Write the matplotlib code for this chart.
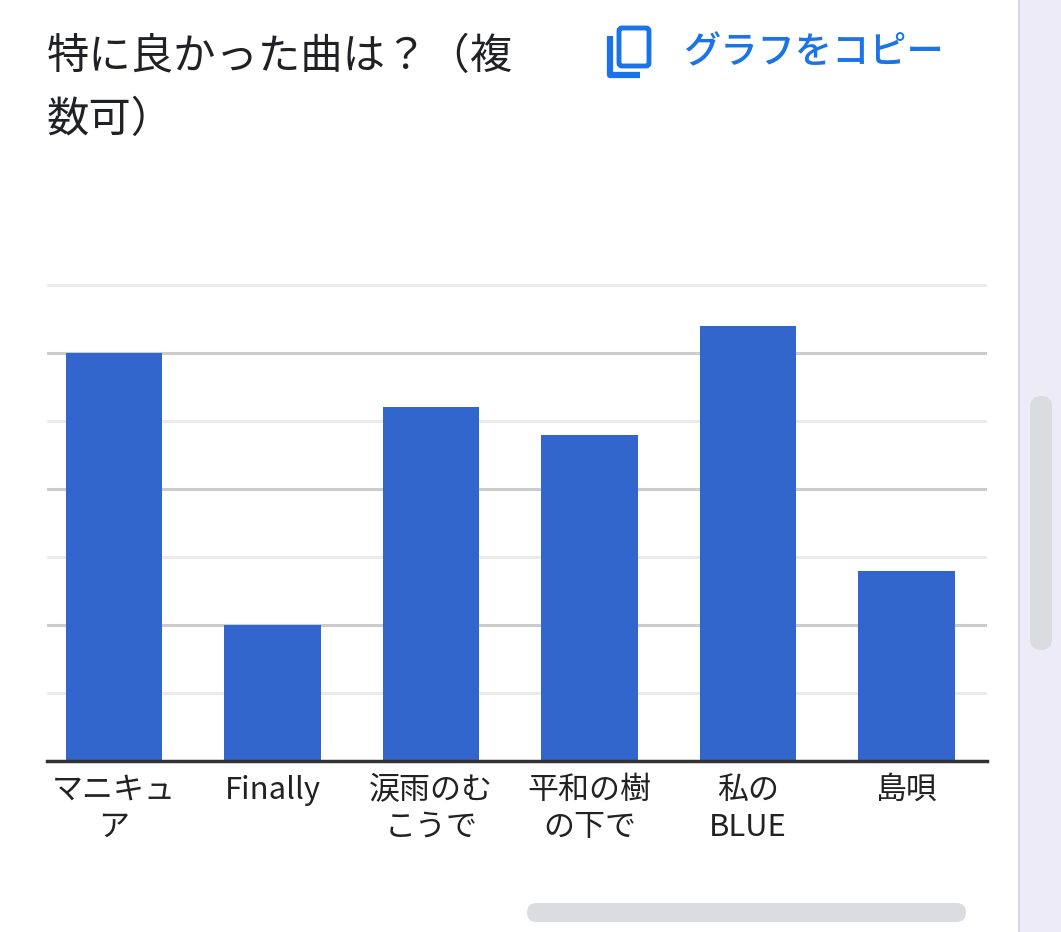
import matplotlib.pyplot as plt
from matplotlib.patches import FancyBboxPatch, Rectangle

plt.rcParams['font.family'] = ['Noto Sans CJK JP', 'DejaVu Sans']

# Data
songs = ['マニキュ\nア', 'Finally', '涙雨のむ\nこうで', '平和の樹\nの下で', '私の\nBLUE', '島唄']
votes = [15, 5, 13, 12, 16, 7]
major_ticks = [5, 10, 15]
minor_ticks = [2.5, 7.5, 12.5, 17.5]

W, H = 1061, 932
fig = plt.figure(figsize=(W / 100, H / 100), dpi=100)

# overlay axes in pixel coordinates for page furniture
page = fig.add_axes([0, 0, 1, 1])
page.set_xlim(0, W)
page.set_ylim(H, 0)
page.axis('off')

# right side strip with vertical scrollbar
page.add_patch(Rectangle((1018, 0), W - 1018, H, facecolor='#eeebf8', edgecolor='none'))
page.plot([1018.5, 1018.5], [0, H], color='#d8d5e6', lw=1.5)
page.add_patch(FancyBboxPatch((1030, 396), 22, 254, boxstyle='round,pad=0,rounding_size=11',
                              facecolor='#dadce0', edgecolor='none'))
# horizontal scrollbar
page.add_patch(FancyBboxPatch((527, 903), 439, 19, boxstyle='round,pad=0,rounding_size=9.5',
                              facecolor='#dadce0', edgecolor='none'))

# title
page.text(47, 57, '特に良かった曲は？（複', fontsize=30.5, color='#202124', va='center', ha='left')
page.text(47, 120, '数可）', fontsize=30.5, color='#202124', va='center', ha='left')

# copy icon + link text
blue = '#1a73e8'
page.add_patch(FancyBboxPatch((619, 28), 30, 38, boxstyle='round,pad=0,rounding_size=3',
                              facecolor='none', edgecolor=blue, lw=3.5))
page.plot([610, 610, 640], [36, 74.5, 74.5], color=blue, lw=4.5, solid_capstyle='butt',
          solid_joinstyle='round')
page.text(683, 52, 'グラフをコピー', fontsize=26.8, color=blue, va='center', ha='left',
          fontweight='medium')

# chart axes: x 47..987 px, y 0 at 761 px, 17.5 at 285 px
unit = (761 - 285) / 17.5
top_px = 279
ymax = (761 - top_px) / unit
ax = fig.add_axes([47 / W, 1 - 761 / H, (987 - 47) / W, (761 - top_px) / H])
x = list(range(len(songs)))
ax.bar(x, votes, width=0.61, color='#3366cc', zorder=3)
ax.set_ylim(0, ymax)
ax.set_xlim(-0.423, 5.508)

for t in major_ticks:
    ax.axhline(t, color='#cccccc', lw=2.2, zorder=1)
for t in minor_ticks:
    ax.axhline(t, color='#ebebeb', lw=2.2, zorder=1)
ax.axhline(0, color='#333333', lw=2.5, zorder=4, clip_on=False)

for s in ax.spines.values():
    s.set_visible(False)
ax.set_yticks([])
ax.set_xticks(x)
ax.set_xticklabels(songs, fontsize=22.3, color='#222222', linespacing=1.25)
ax.tick_params(axis='x', length=0, pad=10)
ax.set_facecolor('none')

fig.savefig('out.png', dpi=100)
